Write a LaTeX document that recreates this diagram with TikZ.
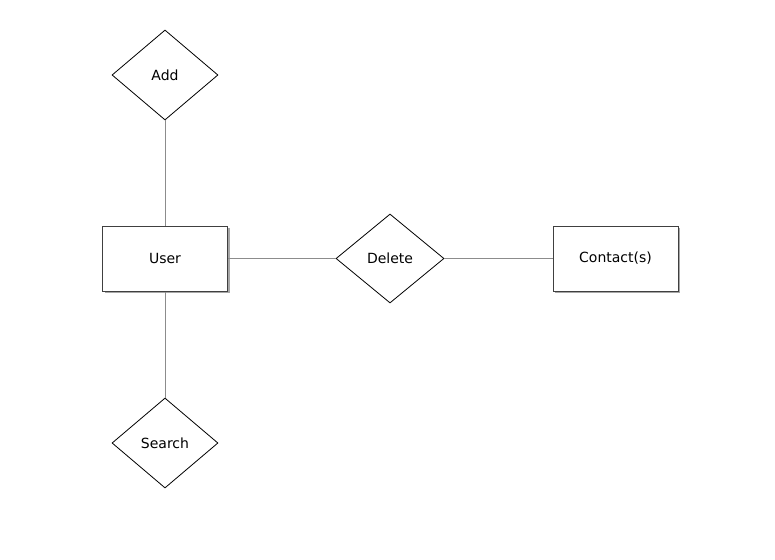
\documentclass[tikz,border=0pt]{standalone}
\usepackage{fontspec}
\setmainfont{DejaVu Sans}
\usetikzlibrary{shapes.geometric}
\begin{document}
\begin{tikzpicture}[x=1pt,y=-1pt,
  entity/.style={draw=black!75,line width=1pt,fill=white,minimum width=125pt,minimum height=65pt,inner sep=0pt,font=\fontsize{14}{16}\selectfont},
  relation/.style={draw=black,line width=0.8pt,fill=white,diamond,minimum width=106pt,minimum height=90pt,inner sep=0pt,aspect=1.18,font=\fontsize{14}{16}\selectfont},
  link/.style={draw=black!45,line width=1pt}]
\useasboundingbox (0,0) rectangle (775,559);
\fill[black!35] (104.5,228) rectangle (229.5,293);
\fill[black!35] (555,228) rectangle (680,293);
\node[entity] (user) at (165,258.5) {User};
\node[entity] (contact) at (615.5,258.5) {Contact(s)};
\node[relation] (add) at (165,75) {Add};
\node[relation] (search) at (165,443) {Search};
\node[relation,minimum width=108pt,minimum height=89pt] (delete) at (390,258.5) {Delete};
\draw[link] (add.south) -- (user.north);
\draw[link] (user.south) -- (search.north);
\draw[link] (user.east) -- (delete.west);
\draw[link] (delete.east) -- (contact.west);
\end{tikzpicture}
\end{document}
